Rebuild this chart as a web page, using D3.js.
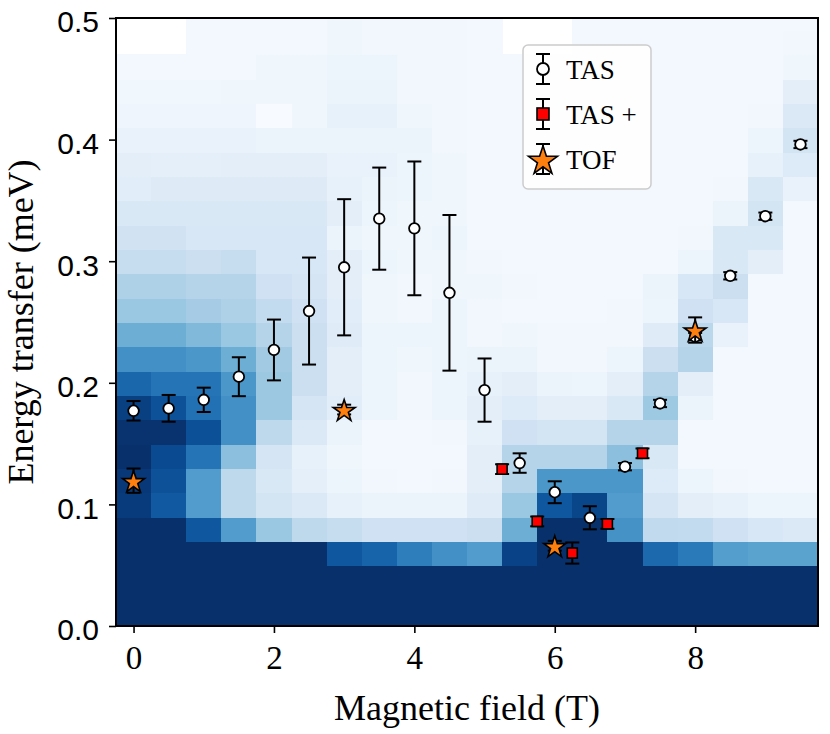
<!DOCTYPE html>
<html>
<head>
<meta charset="utf-8">
<script src="https://cdn.jsdelivr.net/npm/d3@7"></script>
<style>
  body { margin: 0; background: #ffffff; }
</style>
</head>
<body>
<div id="canvas"></div>
<script>
"use strict"

/* Heatmap grid: field columns (T) and energy rows (meV) */
let fieldT = [0, 0.5, 1, 1.5, 2, 2.5, 3, 3.5, 4, 4.5, 5, 5.5, 6, 6.5, 7, 7.5, 8, 8.5, 9, 9.5];
let energyMeV = [0, 0.02, 0.04, 0.06, 0.08, 0.10, 0.12, 0.14, 0.16, 0.18, 0.20, 0.22, 0.24,
    0.26, 0.28, 0.30, 0.32, 0.34, 0.36, 0.38, 0.40, 0.42, 0.44, 0.46, 0.48, 0.50];

/* normalised intensity, one row per energy (bottom row first), null = no data */
let intensity = [
    [1, 1, 1, 1, 1, 1, 1, 1, 1, 1, 1, 1, 1, 1, 1, 1, 1, 1, 1, 1],
    [1, 1, 1, 1, 1, 1, 1, 1, 1, 1, 1, 1, 1, 1, 1, 1, 1, 1, 1, 1],
    [1, 1, 1, 1, 1, 1, 1, 1, 1, 1, 1, 1, 1, 1, 1, 1, 1, 1, 1, 1],
    [1, 1, 1, 1, 1, 1, .85, .8, .7, .63, .58, .93, 1, 1, 1, .78, .72, .57, .55, .55],
    [1, 1, .85, .58, .38, .27, .24, .2, .2, .2, .22, .5, 1, 1, .62, .26, .25, .2, .16, .14],
    [.96, .84, .58, .27, .18, .14, .08, .06, .06, .06, .12, .38, .85, .92, .58, .17, .1, .08, .05, .05],
    [.97, .87, .58, .27, .15, .09, .05, .03, .02, .03, .1, .3, .6, .6, .6, .13, .05, .03, .02, .02],
    [1, .9, .74, .42, .17, .08, .04, .02, .02, .02, .1, .3, .3, .3, .42, .15, .02, .02, .02, .02],
    [.99, .99, .88, .63, .27, .14, .06, .02, .02, .03, .08, .2, .18, .18, .3, .3, .02, .02, .02, .02],
    [.94, .87, .75, .63, .375, .17, .11, .05, .03, .05, .1, .13, .1, .1, .15, .37, .06, .02, .02, .02],
    [.79, .74, .74, .6, .375, .22, .1, .05, .03, .05, .08, .1, .06, .05, .1, .3, .1, .02, .02, .02],
    [.63, .63, .6, .5, .36, .22, .1, .05, .04, .05, .06, .06, .03, .03, .05, .22, .3, .02, .02, .02],
    [.5, .5, .45, .38, .3, .22, .12, .05, .05, .05, .03, .04, .03, .03, .03, .12, .28, .07, .02, .02],
    [.38, .38, .35, .32, .25, .2, .11, .04, .03, .05, .03, .02, .02, .02, .03, .05, .2, .16, .02, .02],
    [.32, .32, .3, .3, .2, .17, .1, .04, .03, .04, .04, .03, .02, .02, .02, .06, .16, .22, .02, .02],
    [.24, .24, .22, .24, .16, .16, .1, .05, .04, .04, .03, .02, .02, .02, .02, .02, .05, .15, .1, .02],
    [.19, .19, .16, .16, .16, .16, .06, .04, .04, .05, .02, .02, .02, .02, .02, .02, .03, .15, .15, .02],
    [.15, .15, .15, .15, .15, .15, .1, .05, .04, .04, .02, .02, .02, .02, .02, .02, .02, .06, .18, .02],
    [.11, .125, .125, .125, .125, .125, .08, .06, .05, .04, .02, .02, .02, .02, .02, .02, .02, .03, .15, .07],
    [.1, .09, .09, .1, .1, .1, .07, .07, .05, .04, .02, .02, .02, .02, .02, .02, .02, .02, .08, .13],
    [.07, .07, .07, .07, .06, .06, .06, .06, .06, .03, .02, .02, .02, .02, .02, .02, .02, .02, .05, .18],
    [.045, .045, .045, .045, 0, .04, .08, .08, .04, .03, .02, .02, .02, .02, .02, .02, .02, .02, .03, .14],
    [.035, .035, .035, .04, .04, .04, .06, .06, .03, .03, .02, .02, .02, .02, .02, .02, .02, .02, .02, .1],
    [.025, .025, .025, .025, .04, .04, .05, .05, .03, .03, .02, .02, .02, .02, .02, .02, .02, .02, .02, .04],
    [null, null, .02, .02, .02, .02, .04, .03, .03, .03, .02, null, null, .02, .02, .02, .02, .02, .02, .03],
    [null, null, .02, .02, .02, .02, .04, .03, .03, .03, .02, null, null, .02, .02, .02, .02, .02, .02, .02]
];

/* TAS points */
let tasField = [0, 0.5, 1, 1.5, 2, 2.5, 3, 3.5, 4, 4.5, 5, 5.5, 6, 6.5, 7, 7.5, 8, 8.5, 9, 9.5];
let tasEnergy = [0.177, 0.179, 0.186, 0.205, 0.227, 0.259, 0.295, 0.335, 0.327, 0.274,
    0.194, 0.134, 0.110, 0.089, 0.131, 0.183, 0.238, 0.288, 0.337, 0.396];
let tasError = [0.008, 0.011, 0.010, 0.016, 0.025, 0.044, 0.056, 0.042, 0.055, 0.064,
    0.026, 0.008, 0.009, 0.0095, 0.003, 0.003, 0.003, 0.003, 0.003, 0.003];

/* TAS + points */
let tasPlusField = [5.25, 5.75, 6.25, 6.75, 7.25];
let tasPlusEnergy = [0.129, 0.086, 0.060, 0.084, 0.142];
let tasPlusError = [0.004, 0.004, 0.0087, 0.004, 0.004];

/* TOF points */
let tofField = [0, 3, 6, 8];
let tofEnergy = [0.1195, 0.178, 0.066, 0.2434];
let tofError = [0.010, 0.004, 0.004, 0.0104];

let xTicks = [0, 2, 4, 6, 8];
let yTicks = [0, 0.1, 0.2, 0.3, 0.4, 0.5];
let legendLabels = ["TAS", "TAS +", "TOF"];

/* Drawing configuration */
let svgWidth = 830;
let svgHeight = 734;
let plotLeft = 116;
let plotRight = 818;
let plotTop = 18;
let plotBottom = 626;
let serif = "'Liberation Serif', 'DejaVu Serif', serif";
let sans = "'Liberation Sans', Arial, sans-serif";

let svg = d3.select("#canvas")
    .append("svg")
    .attr("width", svgWidth)
    .attr("height", svgHeight);

let xScale = d3.scaleLinear()
    .domain([-0.25, 9.75])
    .range([plotLeft, plotRight]);

let yScale = d3.scaleLinear()
    .domain([0, 0.5])
    .range([plotBottom, plotTop]);

let colour = d3.scaleSequential(d3.interpolateBlues)
    .domain([0, 1]);

svg.append("clipPath")
    .attr("id", "plotClip")
    .append("rect")
    .attr("x", plotLeft)
    .attr("y", plotTop)
    .attr("width", plotRight - plotLeft)
    .attr("height", plotBottom - plotTop);

/* Heatmap cells */
let cells = [];
energyMeV.forEach(function (e, r) {
    fieldT.forEach(function (f, c) {
        if (intensity[r][c] !== null) {
            cells.push({field: f, energy: e, value: intensity[r][c]});
        }
    });
});

let halfW = 0.25;
let halfH = 0.01;

svg.append("g")
    .attr("clip-path", "url(#plotClip)")
    .attr("shape-rendering", "crispEdges")
    .selectAll("rect")
    .data(cells)
    .join("rect")
    .attr("x", function (d) { return Math.round(xScale(d.field - halfW)); })
    .attr("y", function (d) { return Math.round(yScale(d.energy + halfH)); })
    .attr("width", function (d) { return Math.round(xScale(d.field + halfW)) - Math.round(xScale(d.field - halfW)) + 1; })
    .attr("height", function (d) { return Math.round(yScale(d.energy - halfH)) - Math.round(yScale(d.energy + halfH)) + 1; })
    .attr("fill", function (d) { return colour(d.value); });

/* Axes */
let xAxis = svg.append("g")
    .attr("transform", "translate(0," + plotBottom + ")")
    .call(d3.axisBottom(xScale).tickValues(xTicks).tickFormat(d3.format("d")).tickSize(7).tickSizeOuter(0));

xAxis.select(".domain").remove();
xAxis.selectAll("line").attr("stroke", "black").attr("stroke-width", 1.6);
xAxis.selectAll("text")
    .attr("y", 43)
    .attr("dy", null)
    .attr("font-family", serif)
    .attr("font-size", 33)
    .attr("fill", "black");

let yAxis = svg.append("g")
    .attr("transform", "translate(" + plotLeft + ",0)")
    .call(d3.axisLeft(yScale).tickValues(yTicks).tickFormat(d3.format(".1f")).tickSize(7).tickSizeOuter(0));

yAxis.select(".domain").remove();
yAxis.selectAll("line").attr("stroke", "black").attr("stroke-width", 1.6);
yAxis.selectAll("text")
    .attr("x", -17)
    .attr("dy", "0.46em")
    .attr("font-family", sans)
    .attr("font-size", 30)
    .attr("fill", "black");

/* Frame */
svg.append("rect")
    .attr("x", plotLeft)
    .attr("y", plotTop)
    .attr("width", plotRight - plotLeft)
    .attr("height", plotBottom - plotTop)
    .attr("fill", "none")
    .attr("stroke", "black")
    .attr("stroke-width", 2);

/* Error bars with caps */
function drawErrorBars(group, xs, ys, errs, capHalf) {
    xs.forEach(function (x, i) {
        let px = xScale(x);
        let top = yScale(ys[i] + errs[i]);
        let bottom = yScale(ys[i] - errs[i]);
        group.append("line")
            .attr("x1", px).attr("x2", px)
            .attr("y1", top).attr("y2", bottom)
            .attr("stroke", "black").attr("stroke-width", 2);
        [top, bottom].forEach(function (py) {
            group.append("line")
                .attr("x1", px - capHalf).attr("x2", px + capHalf)
                .attr("y1", py).attr("y2", py)
                .attr("stroke", "black").attr("stroke-width", 2);
        });
    });
}

let markers = svg.append("g");

/* TAS */
drawErrorBars(markers.append("g"), tasField, tasEnergy, tasError, 7);
markers.append("g")
    .selectAll("circle")
    .data(tasField)
    .join("circle")
    .attr("cx", function (d) { return xScale(d); })
    .attr("cy", function (d, i) { return yScale(tasEnergy[i]); })
    .attr("r", 5.3)
    .attr("fill", "white")
    .attr("stroke", "black")
    .attr("stroke-width", 1.8);

/* TAS + */
drawErrorBars(markers.append("g"), tasPlusField, tasPlusEnergy, tasPlusError, 7);
markers.append("g")
    .selectAll("rect")
    .data(tasPlusField)
    .join("rect")
    .attr("x", function (d) { return xScale(d) - 5; })
    .attr("y", function (d, i) { return yScale(tasPlusEnergy[i]) - 5; })
    .attr("width", 10)
    .attr("height", 10)
    .attr("fill", "#ff0000")
    .attr("stroke", "black")
    .attr("stroke-width", 1.6);

/* TOF */
drawErrorBars(markers.append("g"), tofField, tofEnergy, tofError, 7);
let star = d3.symbol().type(d3.symbolStar).size(150);
markers.append("g")
    .selectAll("path")
    .data(tofField)
    .join("path")
    .attr("d", star)
    .attr("transform", function (d, i) {
        return "translate(" + xScale(d) + "," + (yScale(tofEnergy[i]) + 1.5) + ")";
    })
    .attr("fill", "#ff7f0e")
    .attr("stroke", "black")
    .attr("stroke-width", 1.6)
    .attr("stroke-linejoin", "miter");

/* Legend */
let legend = svg.append("g");
legend.append("rect")
    .attr("x", 523)
    .attr("y", 45)
    .attr("width", 128)
    .attr("height", 144)
    .attr("rx", 5)
    .attr("fill", "white")
    .attr("fill-opacity", 0.85)
    .attr("stroke", "#cccccc")
    .attr("stroke-width", 1.5);

let legendX = 543;
let legendRowY = [69, 114, 159];

legendLabels.forEach(function (label, i) {
    let cy = legendRowY[i];
    legend.append("line")
        .attr("x1", legendX).attr("x2", legendX)
        .attr("y1", cy - 15).attr("y2", cy + 15)
        .attr("stroke", "black").attr("stroke-width", 2);
    [cy - 15, cy + 15].forEach(function (py) {
        legend.append("line")
            .attr("x1", legendX - 7).attr("x2", legendX + 7)
            .attr("y1", py).attr("y2", py)
            .attr("stroke", "black").attr("stroke-width", 2);
    });
    if (i === 0) {
        legend.append("circle")
            .attr("cx", legendX).attr("cy", cy).attr("r", 6)
            .attr("fill", "white").attr("stroke", "black").attr("stroke-width", 1.8);
    } else if (i === 1) {
        legend.append("rect")
            .attr("x", legendX - 6).attr("y", cy - 6).attr("width", 12).attr("height", 12)
            .attr("fill", "#ff0000").attr("stroke", "black").attr("stroke-width", 1.6);
    } else {
        legend.append("path")
            .attr("d", d3.symbol().type(d3.symbolStar).size(260))
            .attr("transform", "translate(" + legendX + "," + (cy + 2) + ")")
            .attr("fill", "#ff7f0e").attr("stroke", "black").attr("stroke-width", 1.6);
    }
    legend.append("text")
        .attr("x", 566)
        .attr("y", cy + 10)
        .attr("font-family", serif)
        .attr("font-size", 27)
        .attr("fill", "black")
        .text(label);
});

/* Axis labels */
svg.append("text")
    .attr("x", (plotLeft + plotRight) / 2)
    .attr("y", 720)
    .attr("text-anchor", "middle")
    .attr("font-family", serif)
    .attr("font-size", 36)
    .attr("fill", "black")
    .text("Magnetic field (T)");

svg.append("text")
    .attr("transform", "translate(33," + (plotTop + plotBottom) / 2 + ") rotate(-90)")
    .attr("text-anchor", "middle")
    .attr("font-family", serif)
    .attr("font-size", 36)
    .attr("fill", "black")
    .text("Energy transfer (meV)");
</script>
</body>
</html>
